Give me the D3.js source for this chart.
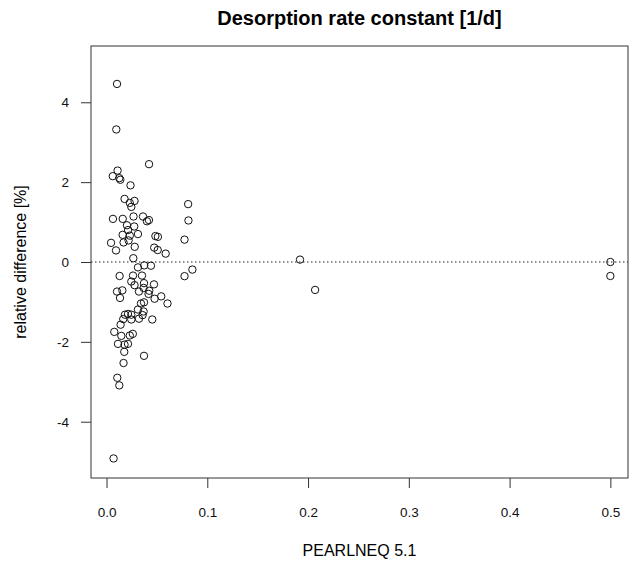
<!DOCTYPE html>
<html>
<head>
<meta charset="utf-8">
<script src="https://cdn.jsdelivr.net/npm/d3@7"></script>
<style>
  body { margin: 0; background: #fff; }
  text { font-family: "Liberation Sans", Arial, sans-serif; }
</style>
</head>
<body>
<div id="graph-container"></div>
<script>
// values
let pearlVals = [
  0.0104, 0.0097, 0.0422, 0.0110, 0.0062, 0.0127, 0.0137, 0.0238, 0.0179, 0.0278,
  0.0231, 0.0246, 0.0810, 0.0813, 0.0064, 0.0161, 0.0268, 0.0362, 0.0401, 0.0421,
  0.0203, 0.0275, 0.0214, 0.0160, 0.0231, 0.0312, 0.0219, 0.0169, 0.0485, 0.0510,
  0.0774, 0.0045, 0.0094, 0.0280, 0.0473, 0.0508, 0.0587, 0.0266, 0.0312, 0.0374,
  0.0441, 0.0130, 0.0263, 0.0352, 0.0774, 0.0852, 0.0246, 0.0278, 0.0372, 0.0471,
  0.0368, 0.0424, 0.0322, 0.0104, 0.0157, 0.0417, 0.0543, 0.0134, 0.0477, 0.0605,
  0.0342, 0.0372, 0.0312, 0.0368, 0.0358, 0.0213, 0.0183, 0.0246, 0.0166, 0.0246,
  0.0322, 0.0454, 0.0140, 0.0077, 0.0147, 0.0231, 0.0261, 0.0114, 0.0179, 0.0213,
  0.0176, 0.0372, 0.0169, 0.0107, 0.0127, 0.0070, 0.1920, 0.2070, 0.5000, 0.5000
];
let relDiff = [
  4.46, 3.32, 2.45, 2.29, 2.15, 2.10, 2.06, 1.92, 1.58, 1.53,
  1.48, 1.38, 1.45, 1.04, 1.08, 1.08, 1.14, 1.14, 1.02, 1.05,
  0.92, 0.89, 0.80, 0.68, 0.66, 0.70, 0.54, 0.49, 0.65, 0.63,
  0.56, 0.48, 0.29, 0.38, 0.36, 0.30, 0.21, 0.095, -0.135, -0.085,
  -0.093, -0.35, -0.34, -0.34, -0.355, -0.19, -0.49, -0.58, -0.53, -0.56,
  -0.65, -0.72, -0.74, -0.74, -0.71, -0.80, -0.86, -0.90, -0.92, -1.04,
  -1.04, -1.01, -1.19, -1.24, -1.33, -1.30, -1.32, -1.32, -1.43, -1.44,
  -1.42, -1.44, -1.57, -1.75, -1.85, -1.84, -1.80, -2.05, -2.07, -2.05,
  -2.25, -2.35, -2.53, -2.90, -3.09, -4.92, 0.06, -0.70, 0.00, -0.35
];
let xTicks = [0, 0.1, 0.2, 0.3, 0.4, 0.5];
let yTicks = [-4, -2, 0, 2, 4];

let data = pearlVals.map((v, i) => ({x: v, y: relDiff[i]}));

// set the dimensions and margins of the graph
let margin = {top: 46, right: 4, bottom: 87, left: 91},
  width = 632 - margin.left - margin.right,
  height = 565 - margin.top - margin.bottom;

let svg = d3.select("#graph-container")
  .append("svg")
  .attr("width", 632)
  .attr("height", 565)
    .append("g")
    .attr("transform", "translate(" + margin.left + "," + margin.top + ")");

let x = d3.scaleLinear()
  .domain([-0.0154, 0.5175])
  .range([0, width]);

let y = d3.scaleLinear()
  .domain([-5.41, 5.41])
  .range([height, 0]);

// axes, R style: ticks outward, no domain path (the box does that)
let xAxis = svg.append("g")
  .attr("transform", "translate(0," + height + ")")
  .call(d3.axisBottom(x).tickValues(xTicks).tickFormat(d3.format(".1f")).tickSize(10).tickPadding(19));

let yAxis = svg.append("g")
  .call(d3.axisLeft(y).tickValues(yTicks).tickFormat(d => d).tickSize(10).tickPadding(12));

[xAxis, yAxis].forEach(a => {
  a.select(".domain").remove();
  a.selectAll("line").attr("stroke", "#333");
  a.selectAll("text").attr("font-size", 13.5).attr("fill", "#111")
    .attr("font-family", "'Liberation Sans', Arial, sans-serif");
});

// box round the plot
svg.append("rect")
  .attr("width", width)
  .attr("height", height)
  .attr("fill", "none")
  .attr("stroke", "#333")
  .attr("stroke-width", 1);

// dotted zero line
svg.append("line")
  .attr("x1", 0)
  .attr("x2", width)
  .attr("y1", y(0))
  .attr("y2", y(0))
  .attr("stroke", "#222")
  .attr("stroke-dasharray", "1.5,2.5");

// points
svg.append("g")
  .selectAll("circle")
  .data(data)
  .enter()
  .append("circle")
    .attr("cx", d => x(d.x))
    .attr("cy", d => y(d.y))
    .attr("r", 3.7)
    .attr("fill", "none")
    .attr("stroke", "#111")
    .attr("stroke-width", 1);

// titles
svg.append("text")
  .attr("x", width / 2)
  .attr("y", -21)
  .attr("text-anchor", "middle")
  .attr("font-size", 20)
  .attr("font-weight", "bold")
  .text("Desorption rate constant [1/d]");

svg.append("text")
  .attr("x", width / 2)
  .attr("y", height + 78)
  .attr("text-anchor", "middle")
  .attr("font-size", 16)
  .text("PEARLNEQ 5.1");

svg.append("text")
  .attr("transform", "translate(" + (-65) + "," + (height / 2) + ") rotate(-90)")
  .attr("text-anchor", "middle")
  .attr("font-size", 16)
  .text("relative difference [%]");
</script>
</body>
</html>
